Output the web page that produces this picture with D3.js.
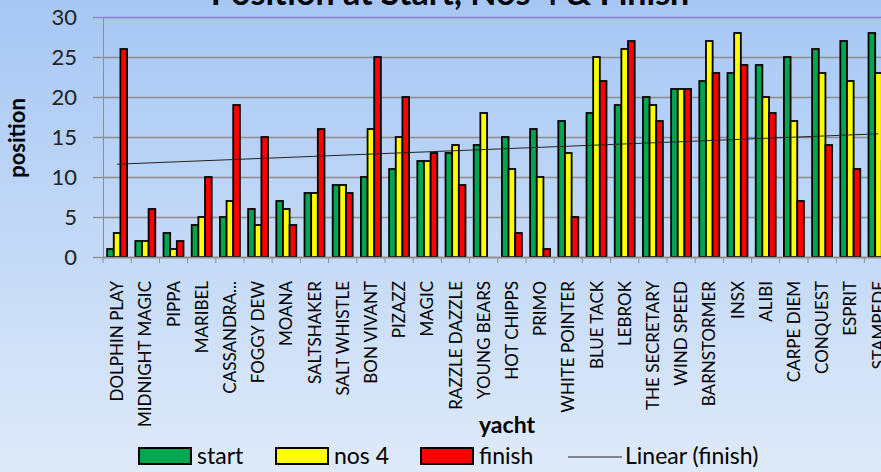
<!DOCTYPE html>
<html>
<head>
<meta charset="utf-8">
<script src="https://cdn.jsdelivr.net/npm/d3@7"></script>
<style>
  body { margin: 0; }
  svg { display: block; font-family: Lato, "Open Sans", sans-serif; }
</style>
</head>
<body>
<svg width="881" height="472"></svg>
<script>
var yachts = ["DOLPHIN PLAY", "MIDNIGHT MAGIC", "PIPPA", "MARIBEL", "CASSANDRA...", "FOGGY DEW", "MOANA",
  "SALTSHAKER", "SALT WHISTLE", "BON VIVANT", "PIZAZZ", "MAGIC", "RAZZLE DAZZLE", "YOUNG BEARS",
  "HOT CHIPPS", "PRIMO", "WHITE POINTER", "BLUE TACK", "LEBROK", "THE SECRETARY", "WIND SPEED",
  "BARNSTORMER", "INSX", "ALIBI", "CARPE DIEM", "CONQUEST", "ESPRIT", "STAMPEDE"];
var start = [1, 2, 3, 4, 5, 6, 7, 8, 9, 10, 11, 12, 13, 14, 15, 16, 17, 18, 19, 20, 21, 22, 23, 24, 25, 26, 27, 28];
var nos4 = [3, 2, 1, 5, 7, 4, 6, 8, 9, 16, 15, 12, 14, 18, 11, 10, 13, 25, 26, 19, 21, 27, 28, 20, 17, 23, 22, 23];
var finish = [26, 6, 2, 10, 19, 15, 4, 16, 8, 25, 20, 13, 9, 0, 3, 1, 5, 22, 27, 17, 21, 23, 24, 18, 7, 14, 11, 12];
var seriesNames = ["start", "nos 4", "finish"];
var seriesColors = ["#00a550", "#ffff00", "#ff0000"];
var yTicks = [0, 5, 10, 15, 20, 25, 30];

var svg = d3.select("svg"),
    plotLeft = 103, plotTop = 17, plotBottom = 257,
    step = 28.2,
    plotRight = plotLeft + step * yachts.length;

var defs = svg.append("defs");
var grad = defs.append("linearGradient").attr("id", "bg").attr("x1", 0).attr("y1", 0).attr("x2", 0).attr("y2", 1);
grad.append("stop").attr("offset", "0%").attr("stop-color", "#a6c7f4");
grad.append("stop").attr("offset", "100%").attr("stop-color", "#dfeaf9");
svg.append("rect").attr("width", 881).attr("height", 472).attr("fill", "url(#bg)");

var x = d3.scaleBand().domain(yachts).range([plotLeft, plotRight]).padding(0);
var x1 = d3.scaleBand().domain(seriesNames).range([0, x.bandwidth()]).paddingInner(0).paddingOuter(0.62);
var y = d3.scaleLinear().domain([0, 30]).range([plotBottom, plotTop]);

// gridlines + y axis
svg.append("g")
    .attr("transform", "translate(" + plotLeft + ",0)")
    .call(d3.axisLeft(y).tickValues(yTicks).tickSize(-(plotRight - plotLeft)).tickFormat(""))
    .call(function(g) {
      g.select(".domain").remove();
      g.selectAll("line").attr("stroke", "#8d8d8d").attr("stroke-width", 1.3);
    });

svg.append("g")
    .attr("transform", "translate(" + plotLeft + ",0)")
    .call(d3.axisLeft(y).tickValues(yTicks).tickSize(10).tickPadding(16))
    .call(function(g) {
      g.select(".domain").attr("stroke", "#8d8d8d");
      g.selectAll("line").attr("stroke", "#8d8d8d").attr("stroke-width", 1.3);
      g.selectAll("text").attr("font-size", "22px").attr("fill", "#222").attr("font-family", "Lato, sans-serif");
    });

// bars (a zero finish is kept for the trendline but draws no bar)
var rows = yachts.map(function(name, i) {
  return {name: name, values: [start[i], nos4[i], finish[i]]};
});

var groups = svg.append("g").selectAll("g")
  .data(rows)
  .enter().append("g")
    .attr("transform", function(d) { return "translate(" + x(d.name) + ",0)"; });

groups.selectAll("rect")
  .data(function(d) { return d.values.map(function(v, k) { return {key: seriesNames[k], k: k, value: v}; }).filter(function(d) { return d.value > 0; }); })
  .enter().append("rect")
    .attr("x", function(d) { return x1(d.key); })
    .attr("width", x1.bandwidth())
    .attr("y", function(d) { return y(d.value); })
    .attr("height", function(d) { return plotBottom - y(d.value); })
    .attr("fill", function(d) { return seriesColors[d.k]; })
    .attr("stroke", "#000")
    .attr("stroke-width", 1.8);

// x axis
svg.append("g")
    .attr("transform", "translate(0," + plotBottom + ")")
    .call(d3.axisBottom(x).tickSize(0).tickFormat(""))
    .call(function(g) { g.select(".domain").attr("stroke", "#8d8d8d").attr("stroke-width", 1.3); });

svg.append("g").selectAll("line")
  .data(d3.range(yachts.length + 1))
  .enter().append("line")
    .attr("x1", function(i) { return plotLeft + i * step; })
    .attr("x2", function(i) { return plotLeft + i * step; })
    .attr("y1", plotBottom).attr("y2", plotBottom + 6)
    .attr("stroke", "#8d8d8d");

svg.append("g").selectAll("text")
  .data(yachts)
  .enter().append("text")
    .attr("transform", function(d) { return "translate(" + (x(d) + x.bandwidth() / 2 + 6) + "," + 281 + ") rotate(-90)"; })
    .attr("text-anchor", "end")
    .attr("font-size", "17px")
    .attr("fill", "#000")
    .text(function(d) { return d; });

// linear trendline for finish
var pts = finish.map(function(v, i) { return [i + 1, v]; });
var mx = d3.mean(pts, function(p) { return p[0]; }),
    my = d3.mean(pts, function(p) { return p[1]; });
var slope = d3.sum(pts, function(p) { return (p[0] - mx) * (p[1] - my); }) / d3.sum(pts, function(p) { return (p[0] - mx) * (p[0] - mx); });
var icpt = my - slope * mx;
var trend = [1, yachts.length].map(function(n) {
  return [x(yachts[n - 1]) + x.bandwidth() / 2, y(icpt + slope * n)];
});
svg.append("path")
    .attr("d", d3.line()(trend))
    .attr("fill", "none")
    .attr("stroke", "#222")
    .attr("stroke-width", 1);

// titles
svg.append("text")
    .attr("x", 450).attr("y", 5)
    .attr("text-anchor", "middle")
    .attr("font-size", "34px").attr("font-weight", "bold")
    .text("Position at Start, Nos 4 & Finish");

svg.append("text")
    .attr("transform", "translate(25,138) rotate(-90)")
    .attr("text-anchor", "middle")
    .attr("font-size", "22px").attr("font-weight", "bold")
    .text("position");

svg.append("text")
    .attr("x", 507).attr("y", 433)
    .attr("text-anchor", "middle")
    .attr("font-size", "23px").attr("font-weight", "bold")
    .text("yacht");

// legend
var legendX = [139, 276, 421];
var legend = svg.append("g");
seriesNames.forEach(function(name, k) {
  legend.append("rect")
      .attr("x", legendX[k]).attr("y", 448)
      .attr("width", 52).attr("height", 16)
      .attr("fill", seriesColors[k]).attr("stroke", "#000").attr("stroke-width", 2);
  legend.append("text")
      .attr("x", legendX[k] + 58).attr("y", 464)
      .attr("font-size", "23px")
      .text(name);
});
legend.append("line")
    .attr("x1", 568).attr("x2", 622).attr("y1", 457).attr("y2", 457)
    .attr("stroke", "#222").attr("stroke-width", 1);
legend.append("text")
    .attr("x", 625).attr("y", 464)
    .attr("font-size", "23px")
    .text("Linear (finish)");
</script>
</body>
</html>
